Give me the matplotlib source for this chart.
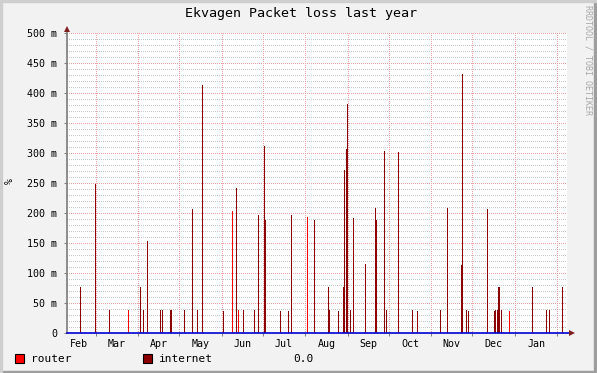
import matplotlib
matplotlib.use("Agg")
import matplotlib.pyplot as plt
import matplotlib.dates as mdates
import matplotlib.transforms as mtransforms
from matplotlib.patches import Rectangle
import numpy as np

# ---------------- data ----------------
title = "Ekvagen Packet loss last year"
series_names = ["router", "internet"]
series_colors = ["#FF0000", "#8B0000"]

router_dates = ["2022-03-25", "2022-06-09", "2022-06-13", "2022-08-03", "2022-12-28"]
router_vals = [39, 204, 39, 194, 37]  # milli-percent

internet_dates = [
    "2022-02-18", "2022-03-01", "2022-03-11", "2022-04-03", "2022-04-05", "2022-04-08",
    "2022-04-17", "2022-04-19", "2022-04-25", "2022-05-05", "2022-05-11", "2022-05-14",
    "2022-05-18", "2022-06-02", "2022-06-12", "2022-06-17", "2022-06-25", "2022-06-28",
    "2022-07-02", "2022-07-03", "2022-07-14", "2022-07-20", "2022-07-22", "2022-08-08",
    "2022-08-18", "2022-08-19", "2022-08-25", "2022-08-29", "2022-08-30", "2022-08-31",
    "2022-09-01", "2022-09-03", "2022-09-05", "2022-09-14", "2022-09-21", "2022-09-22",
    "2022-09-28", "2022-09-29", "2022-10-08", "2022-10-18", "2022-10-22", "2022-11-08",
    "2022-11-13", "2022-11-23", "2022-11-24", "2022-11-27", "2022-11-28", "2022-12-12",
    "2022-12-17", "2022-12-18", "2022-12-19", "2022-12-20", "2022-12-21", "2022-12-22",
    "2023-01-14", "2023-01-24", "2023-01-26", "2023-02-05",
]
internet_vals = [
    77, 249, 39, 77, 39, 154,
    39, 39, 39, 39, 206, 39,
    414, 37, 242, 39, 39, 196,
    311, 189, 37, 37, 196, 189,
    77, 39, 37, 77, 272, 307,
    382, 39, 192, 115, 209, 189,
    304, 39, 302, 39, 37, 39,
    209, 114, 432, 39, 37, 207,
    37, 39, 39, 77, 77, 39,
    76, 39, 39, 76,
]

month_labels = ["Feb", "Mar", "Apr", "May", "Jun", "Jul", "Aug", "Sep", "Oct", "Nov", "Dec", "Jan"]
month_label_dates = ["2022-02-17", "2022-03-16 12:00", "2022-04-16", "2022-05-16 12:00",
                     "2022-06-16", "2022-07-16 12:00", "2022-08-16 12:00", "2022-09-16",
                     "2022-10-16 12:00", "2022-11-16", "2022-12-16 12:00", "2023-01-16 12:00"]
month_starts = ["2022-03-01", "2022-04-01", "2022-05-01", "2022-06-01", "2022-07-01",
                "2022-08-01", "2022-09-01", "2022-10-01", "2022-11-01", "2022-12-01",
                "2023-01-01", "2023-02-01"]
x_start, x_end = "2022-02-08 02:00", "2023-02-08 02:00"
y_max = 500
y_major = [0, 50, 100, 150, 200, 250, 300, 350, 400, 450, 500]
y_labels = ["0", "50 m", "100 m", "150 m", "200 m", "250 m", "300 m", "350 m", "400 m", "450 m", "500 m"]
unit_label = "%"
gprint_text = "0.0"
watermark = "RRDTOOL / TOBI OETIKER"

# ---------------- figure ----------------
W, H = 597, 373
plt.rcParams["font.family"] = ["DejaVu Sans Mono"]
fig = plt.figure(figsize=(W / 100, H / 100), dpi=100, facecolor="#F2F2F2")

# border shading
fig.patches.append(Rectangle((0, 0), 1, 2 / H, transform=fig.transFigure, color="#9E9E9E", zorder=0))
fig.patches.append(Rectangle((1 - 3 / W, 0), 3 / W, 1, transform=fig.transFigure, color="#9E9E9E", zorder=0))
fig.patches.append(Rectangle((0, 1 - 2 / H), 1, 2 / H, transform=fig.transFigure, color="#CFCFCF", zorder=0))
fig.patches.append(Rectangle((0, 0), 2 / W, 1, transform=fig.transFigure, color="#CFCFCF", zorder=0))

L, R, T, B = 67, 567, 33, 333
ax = fig.add_axes([L / W, (H - B) / H, (R - L) / W, (B - T) / H])
ax.set_facecolor("white")

def d2n(s):
    return mdates.datestr2num(s)

rx = [d2n(s) for s in router_dates]
ix = [d2n(s) for s in internet_dates]

ax.bar(ix, internet_vals, width=0.74, color=series_colors[1], linewidth=0, antialiased=False, zorder=2)
ax.bar(rx, router_vals, width=0.74, color=series_colors[0], linewidth=0, antialiased=False, zorder=2.1)

ax.set_xlim(d2n(x_start), d2n(x_end))
ax.set_ylim(0, y_max)

# grid: 1px-on / 1px-off dots, offset to align with pixels, below the data
grid_kw = dict(lw=0.72, ls=(0.5, (1, 1)), antialiased=True, snap=True)
for v in np.arange(0, y_max + 1, 10):
    if v % 50 == 0:
        continue
    ax.axhline(v, color="#C8C8C8", zorder=0.5, **grid_kw)
for v in y_major[1:]:
    ax.axhline(v, color="#EBA2A2", zorder=0.6, **grid_kw)
for s in month_starts:
    ax.axvline(d2n(s), color="#EBA2A2", zorder=0.6, **grid_kw)

for sp in ax.spines.values():
    sp.set_visible(False)

ax.set_yticks(y_major)
ax.set_yticklabels(y_labels)
ax.set_xticks([d2n(s) for s in month_starts])
ax.set_xticklabels([])
ax.set_xticks([d2n(s) for s in month_label_dates], minor=True)
ax.set_xticklabels(month_labels, minor=True)
ax.tick_params(axis="y", length=2, width=0.72, color="#808080", pad=5, labelsize=7.2, labelcolor="black")
ax.tick_params(axis="x", which="major", length=2, width=0.72, color="#808080")
ax.tick_params(axis="x", which="minor", length=0, pad=4, labelsize=7.2, labelcolor="black")

# axes lines
ax.plot([0, 0], [0, 1.015], transform=ax.transAxes, color="#7A7A7A", lw=1.2, clip_on=False, zorder=5)
ax.plot([0, 1.003], [0, 0], transform=ax.transAxes, color="#0000D0", lw=1.2, clip_on=False, zorder=5)

# arrows
top_tr = mtransforms.offset_copy(ax.transAxes, fig=fig, x=0, y=4.5, units="dots")
ax.plot([0], [1], marker="^", markersize=4.5, color="#801F1F", transform=top_tr, clip_on=False, zorder=6,
        markeredgewidth=0)
right_tr = mtransforms.offset_copy(ax.transAxes, fig=fig, x=5, y=0, units="dots")
ax.plot([1], [0], marker=">", markersize=4.5, color="#801F1F", transform=right_tr, clip_on=False, zorder=6,
        markeredgewidth=0)

# texts
fig.text(0.505, 1 - 14 / H, title, ha="center", va="center", fontsize=9.6, color="black")
fig.text(10 / W, 1 - 181 / H, unit_label, rotation=90, ha="center", va="center", fontsize=7.2)
fig.text(588 / W, 1 - 5 / H, watermark, rotation=270, ha="center", va="top", fontsize=6, color="#A8A8A8")

# legend
legend_x = [15, 143]
for name, col, lx in zip(series_names, series_colors, legend_x):
    fig.patches.append(Rectangle((lx / W, 1 - 363 / H), 9 / W, 9 / H, transform=fig.transFigure,
                                 facecolor=col, edgecolor="black", linewidth=0.8, zorder=5))
    fig.text((lx + 16) / W, 1 - 359 / H, name, ha="left", va="center", fontsize=8)
fig.text(293 / W, 1 - 359 / H, gprint_text, ha="left", va="center", fontsize=8)

fig.savefig("out.png", dpi=100, facecolor=fig.get_facecolor())
